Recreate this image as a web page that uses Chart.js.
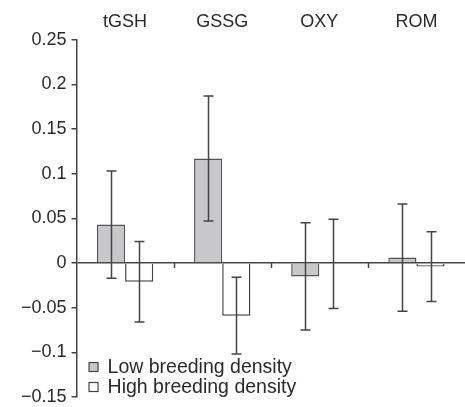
<!DOCTYPE html>
<html>
<head>
<meta charset="utf-8">
<script src="https://cdn.jsdelivr.net/npm/chart.js@4/dist/chart.umd.min.js"></script>
<style>
  body { margin: 0; background: #fff; }
  #wrap { width: 465px; height: 407px; position: relative; }
</style>
</head>
<body>
<div id="wrap"><canvas id="densitychart"></canvas></div>
<script>
// data
let categories = ["tGSH", "GSSG", "OXY", "ROM"];
let low_means = [0.043, 0.117, -0.015, 0.006];
let low_errs = [0.060, 0.070, 0.060, 0.060];
let high_means = [-0.021, -0.059, -0.001, -0.004];
let high_errs = [0.045, 0.043, 0.050, 0.039];
let y_ticks = [0.25, 0.2, 0.15, 0.1, 0.05, 0, -0.05, -0.1, -0.15];

const ink = '#2a2a2a';
const fontFam = '"Liberation Sans", Arial, sans-serif';

function fmtTick(v){
    if (Math.abs(v) < 1e-9) return "0";
    let s = String(Math.round(Math.abs(v) * 100) / 100);
    return v < 0 ? "\u2212" + s : s;
}

// error bars with caps
let errorBars = {
    id: 'errorBars',
    afterDatasetsDraw(chart){
        let ctx = chart.ctx;
        let y = chart.scales.y;
        ctx.save();
        ctx.strokeStyle = '#444';
        ctx.lineWidth = 1.5;
        chart.data.datasets.forEach(function(ds, i){
            let meta = chart.getDatasetMeta(i);
            meta.data.forEach(function(bar, j){
                let m = ds.data[j], e = ds.errs[j];
                let x = Math.round(bar.x) + 0.5;
                let top = y.getPixelForValue(m + e);
                let bot = y.getPixelForValue(m - e);
                ctx.beginPath();
                ctx.moveTo(x, top); ctx.lineTo(x, bot);
                ctx.moveTo(x - 5, top); ctx.lineTo(x + 5, top);
                ctx.moveTo(x - 5, bot); ctx.lineTo(x + 5, bot);
                ctx.stroke();
            });
        });
        ctx.restore();
    }
};

// small ticks on the zero line between categories
let zeroTicks = {
    id: 'zeroTicks',
    afterDatasetsDraw(chart){
        let ctx = chart.ctx;
        let xs = chart.scales.x, ys = chart.scales.y;
        let y0 = ys.getPixelForValue(0);
        let step = xs.getPixelForValue(1) - xs.getPixelForValue(0);
        ctx.save();
        ctx.strokeStyle = '#444';
        ctx.lineWidth = 1.5;
        for (let i = 0; i < categories.length - 1; i++){
            let x = Math.round(xs.getPixelForValue(i) + step / 2) + 0.5;
            ctx.beginPath();
            ctx.moveTo(x, y0); ctx.lineTo(x, y0 + 5);
            ctx.stroke();
        }
        ctx.restore();
    }
};

// legend inside the plot, lower left
let innerLegend = {
    id: 'innerLegend',
    afterDraw(chart){
        let ctx = chart.ctx;
        let left = chart.chartArea.left + 12;
        let rows = [367, 387];
        ctx.save();
        ctx.font = '19.5px ' + fontFam;
        ctx.textBaseline = 'middle';
        chart.data.datasets.forEach(function(ds, i){
            let cy = rows[i];
            ctx.fillStyle = ds.backgroundColor;
            ctx.strokeStyle = '#444';
            ctx.lineWidth = 1.2;
            ctx.fillRect(left + 0.5, cy - 4.5, 9, 9);
            ctx.strokeRect(left + 0.5, cy - 4.5, 9, 9);
            ctx.fillStyle = ink;
            ctx.fillText(ds.label, left + 19, cy + 1);
        });
        ctx.restore();
    }
};

function renderChart(){
    let chart_options = {
        type: 'bar',
        data: {
            labels: categories,
            datasets: [{
                label: "Low breeding density",
                backgroundColor: '#c8c8ca',
                borderColor: '#555',
                borderWidth: 1.5,
                data: low_means,
                errs: low_errs
            }, {
                label: "High breeding density",
                backgroundColor: '#ffffff',
                borderColor: '#444',
                borderWidth: 1.5,
                data: high_means,
                errs: high_errs
            }]
        },
        options: {
            responsive: true,
            maintainAspectRatio: false,
            animation: false,
            layout: { padding: { left: 16, right: 0, top: 4, bottom: 10 } },
            datasets: { bar: { categoryPercentage: 0.58, barPercentage: 1.0 } },
            plugins: {
                legend: { display: false },
                tooltip: { enabled: false }
            },
            scales: {
                x: {
                    position: 'top',
                    grid: { display: false, drawTicks: false },
                    border: { display: false },
                    ticks: {
                        color: ink,
                        padding: 7,
                        font: { size: 18, family: fontFam }
                    }
                },
                y: {
                    min: -0.15,
                    max: 0.25,
                    afterBuildTicks: function(axis){
                        axis.ticks = y_ticks.map(v => ({ value: v }));
                    },
                    afterFit: function(axis){
                        // let the last label hang into the padding
                        axis.paddingBottom = 0;
                        axis.paddingTop = 0;
                    },
                    grid: {
                        drawOnChartArea: true,
                        tickLength: 5,
                        tickColor: '#444',
                        lineWidth: 1.5,
                        color: function(c){
                            return (c.tick && c.tick.value === 0) ? '#444' : 'rgba(0,0,0,0)';
                        }
                    },
                    border: { display: true, color: '#444', width: 1.5 },
                    ticks: {
                        color: ink,
                        padding: 5,
                        font: { size: 18, family: fontFam },
                        callback: function(v){ return fmtTick(v); }
                    }
                }
            }
        },
        plugins: [zeroTicks, errorBars, innerLegend]
    };
    let element = document.getElementById("densitychart");
    let chart = new Chart(element, chart_options);
    console.log(chart.chartArea);
}

renderChart();
</script>
</body>
</html>
